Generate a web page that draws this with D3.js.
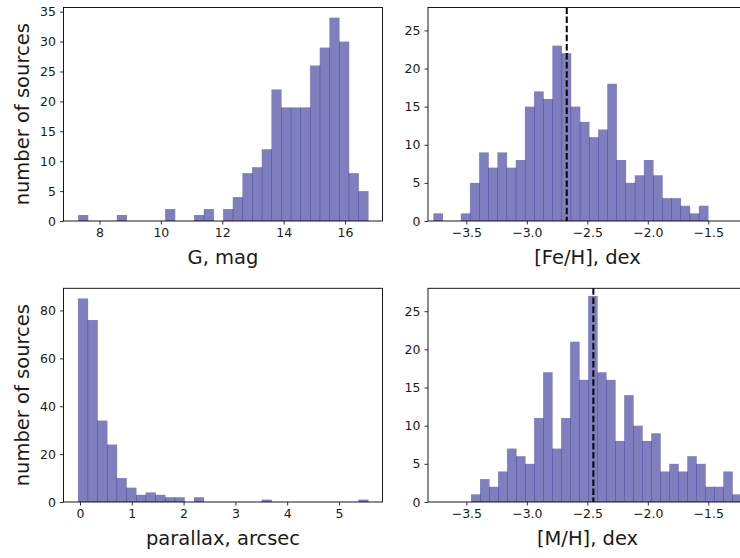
<!DOCTYPE html>
<html>
<head>
<meta charset="utf-8">
<script src="https://cdn.jsdelivr.net/npm/d3@7"></script>
<style>
  html, body { margin: 0; padding: 0; background: #fff; }
  svg { display: block; }
  text { font-family: "DejaVu Sans", sans-serif; fill: #1a1a1a; }
</style>
</head>
<body>
<script>
// ---------------- DATA ----------------
// G magnitude histogram (30 bins)
const gBinStart = 7.305;
const gBinWidth = 0.3148;
const gCounts = [1,0,0,0,1,0,0,0,0,2,0,0,1,2,0,2,4,8,9,12,22,19,19,19,26,29,34,30,8,5];
const gXTicks = [8, 10, 12, 14, 16];
const gYTicks = [0, 5, 10, 15, 20, 25, 30, 35];

// [Fe/H] histogram (30 bins)
const feBinStart = -3.7727;
const feBinWidth = 0.07567;
const feCounts = [1,0,0,1,5,9,7,9,7,8,15,17,16,23,22,15,13,11,12,18,8,5,6,8,6,3,3,2,1,2];
const feMedian = -2.670;

// parallax histogram (30 bins)
const plxBinStart = -0.0386;
const plxBinWidth = 0.1866;
const plxCounts = [85,76,34,24,10,6,3,4,3,2,2,0,2,0,0,0,0,0,0,1,0,0,0,0,0,0,0,0,0,1];
const plxXTicks = [0, 1, 2, 3, 4, 5];
const plxYTicks = [0, 20, 40, 60, 80];

// [M/H] histogram (30 bins)
const mhBinStart = -3.4614;
const mhBinWidth = 0.07448;
const mhCounts = [1,3,2,4,7,6,5,11,17,7,11,21,16,27,17,16,8,14,10,8,9,4,5,4,6,5,2,2,4,1];
const mhMedian = -2.450;

const metXTicks = [-3.5, -3.0, -2.5, -2.0, -1.5];
const metYTicks = [0, 5, 10, 15, 20, 25];

const xLabels = ["G, mag", "[Fe/H], dex", "parallax, arcsec", "[M/H], dex"];
const yLabel = "number of sources";

// ---------------- DRAW ----------------
const W = 740, H = 558;
const svg = d3.select("body").append("svg").attr("width", W).attr("height", H)
  .attr("viewBox", `0 0 ${W} ${H}`);
svg.append("rect").attr("width", W).attr("height", H).attr("fill", "#fff");

const TICK_FS = 12.5, LABEL_FS = 19.5;
const fmtMinus = d => (d < 0 ? "\u2212" : "") + Math.abs(d).toFixed(1);

function panel(cfg) {
  const { x0, x1, y0, y1, xdom, ydom, start, width, counts, xticks, yticks, xfmt, xlabel, ylab, vline } = cfg;
  const g = svg.append("g");
  const x = d3.scaleLinear().domain(xdom).range([x0, x1]);
  const y = d3.scaleLinear().domain(ydom).range([y1, y0]);
  const clipId = "clip" + Math.round(x0) + "_" + Math.round(y0);
  svg.append("clipPath").attr("id", clipId).append("rect")
    .attr("x", x0).attr("y", y0).attr("width", x1 - x0).attr("height", y1 - y0);

  const bins = counts.map((c, i) => ({ a: start + i * width, b: start + (i + 1) * width, c }));
  const plot = g.append("g").attr("clip-path", `url(#${clipId})`);
  plot.selectAll("rect.bar").data(bins.filter(d => d.c > 0)).join("rect")
    .attr("class", "bar")
    .attr("x", d => x(d.a))
    .attr("width", d => x(d.b) - x(d.a) + 0.5)
    .attr("y", d => y(d.c))
    .attr("height", d => y(0) - y(d.c))
    .attr("fill", "navy").attr("fill-opacity", 0.5);

  if (vline !== undefined) {
    plot.append("line")
      .attr("x1", x(vline)).attr("x2", x(vline))
      .attr("y1", y0).attr("y2", y1)
      .attr("stroke", "#000").attr("stroke-width", 2)
      .attr("stroke-dasharray", "6.5,2.6");
  }

  // axes
  const xa = g.append("g").attr("transform", `translate(0,${y1})`)
    .call(d3.axisBottom(x).tickValues(xticks).tickFormat(xfmt).tickSize(3.5).tickPadding(4));
  const ya = g.append("g").attr("transform", `translate(${x0},0)`)
    .call(d3.axisLeft(y).tickValues(yticks).tickFormat(d3.format("d")).tickSize(3.5).tickPadding(4));
  [xa, ya].forEach(a => {
    a.select(".domain").remove();
    a.selectAll(".tick line").attr("stroke", "#000").attr("stroke-width", 0.8);
    a.selectAll(".tick text").attr("font-size", TICK_FS).style("font-family", '"DejaVu Sans", sans-serif').attr("fill", "#1a1a1a");
  });

  // spines
  g.append("rect").attr("x", x0).attr("y", y0).attr("width", x1 - x0).attr("height", y1 - y0)
    .attr("fill", "none").attr("stroke", "#000").attr("stroke-width", 0.9);

  g.append("text").attr("x", (x0 + x1) / 2).attr("y", y1 + 43)
    .attr("text-anchor", "middle").attr("font-size", LABEL_FS).text(xlabel);
  if (ylab) {
    g.append("text").attr("transform", `translate(29,${(y0 + y1) / 2}) rotate(-90)`)
      .attr("text-anchor", "middle").attr("font-size", LABEL_FS).text(ylab);
  }
}

const LX0 = 63.5, LX1 = 382.5, RX0 = 428, RX1 = 747;
const TY0 = 7.5, TY1 = 221, BY0 = 288.3, BY1 = 502;

panel({ x0: LX0, x1: LX1, y0: TY0, y1: TY1, xdom: [6.828, 17.22], ydom: [0, 35.7],
  start: gBinStart, width: gBinWidth, counts: gCounts, xticks: gXTicks, yticks: gYTicks,
  xfmt: d3.format("d"), xlabel: xLabels[0], ylab: yLabel });
panel({ x0: RX0, x1: RX1, y0: TY0, y1: TY1, xdom: [-3.817, -1.18], ydom: [0, 28],
  start: feBinStart, width: feBinWidth, counts: feCounts, xticks: metXTicks, yticks: metYTicks,
  xfmt: fmtMinus, xlabel: xLabels[1], vline: feMedian });
panel({ x0: LX0, x1: LX1, y0: BY0, y1: BY1, xdom: [-0.318, 5.84], ydom: [0, 89.25],
  start: plxBinStart, width: plxBinWidth, counts: plxCounts, xticks: plxXTicks, yticks: plxYTicks,
  xfmt: d3.format("d"), xlabel: xLabels[2], ylab: yLabel });
panel({ x0: RX0, x1: RX1, y0: BY0, y1: BY1, xdom: [-3.817, -1.18], ydom: [0, 28],
  start: mhBinStart, width: mhBinWidth, counts: mhCounts, xticks: metXTicks, yticks: metYTicks,
  xfmt: fmtMinus, xlabel: xLabels[3], vline: mhMedian });
</script>
</body>
</html>
